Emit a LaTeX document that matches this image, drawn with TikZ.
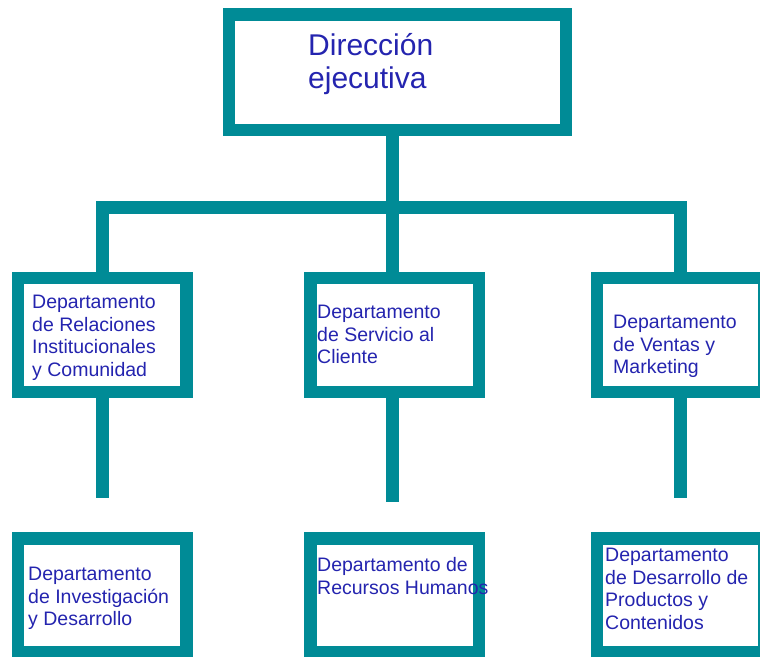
\documentclass[tikz,border=0pt]{standalone}
\usepackage{fontspec}
\setmainfont{Liberation Sans}
\usepackage{tikz}

\definecolor{orgteal}{RGB}{0,139,150}
\definecolor{orgblue}{RGB}{36,36,175}

\tikzset{
  deptbox/.style={draw=orgteal, line width=12.5pt, fill=white, inner sep=0pt,
    minimum width=168.5pt, minimum height=113.8pt},
  deptlabel/.style={anchor=north west, inner sep=0pt, align=left, text=orgblue,
    font=\fontsize{19.5}{22.5}\selectfont},
  link/.style={draw=orgteal, line width=13pt}
}

\begin{document}
\begin{tikzpicture}[x=1pt,y=-1pt]
\useasboundingbox (0,0) rectangle (760,656);
\clip (0,0) rectangle (760,656);
\node [deptbox, minimum width=336.8pt, minimum height=115.2pt] (dir) at (397.4,72.2) {};
\node [deptbox] (rel) at (102.2,334.9) {};
\node [deptbox] (serv) at (394.5,334.9) {};
\node [deptbox, minimum width=167pt] (vent) at (680.4,334.9) {};
\node [deptbox] (inv) at (102.2,595.2) {};
\node [deptbox] (rrhh) at (394.5,595.2) {};
\node [deptbox, minimum width=167pt] (prod) at (680.4,595.2) {};
\coordinate (hub) at (392.5,207);
\draw [link] (dir.south -| hub) -- (hub);
\draw [link] (rel.north) |- (hub) -| (vent.north);
\draw [link] (hub) -- (hub |- serv.north);
\draw [link] (rel.south) -- (rel.south |- 0,498);
\draw [link] (serv.south -| hub) -- (hub |- 0,502);
\draw [link] (vent.south) -- (vent.south |- 0,498);
\node [deptlabel, font=\fontsize{30}{33}\selectfont] (dirtxt) at (308,33.5) {Dirección\\ejecutiva};
\node [deptlabel] (reltxt) at (32,295) {Departamento\\de Relaciones\\Institucionales\\y Comunidad};
\node [deptlabel] (servtxt) at (317,305) {Departamento\\de Servicio al\\Cliente};
\node [deptlabel] (venttxt) at (613,315) {Departamento\\de Ventas y\\Marketing};
\node [deptlabel] (invtxt) at (28,567) {Departamento\\de Investigación\\y Desarrollo};
\node [deptlabel] (rrhhtxt) at (317,557.5) {Departamento de\\Recursos Humanos};
\node [deptlabel] (prodtxt) at (605,548) {Departamento\\de Desarrollo de\\Productos y\\Contenidos};
\end{tikzpicture}
\end{document}
